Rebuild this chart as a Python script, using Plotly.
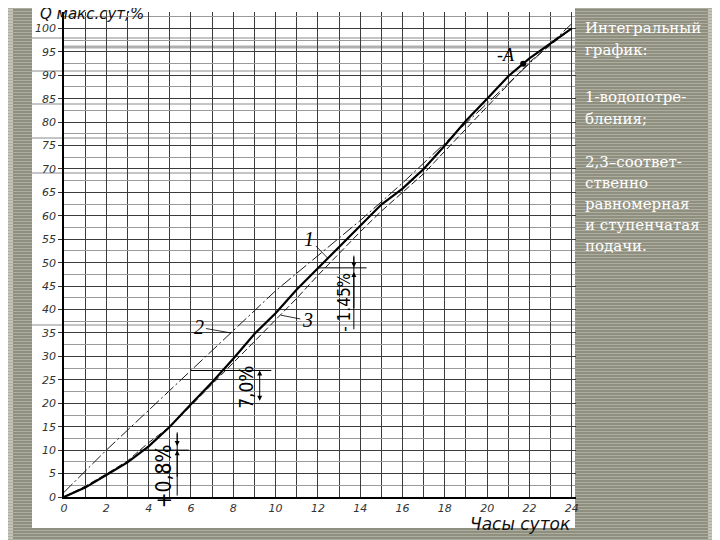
import numpy as np
import plotly.graph_objects as go

# ---------------- data ----------------
hours = list(range(25))
consumption = [0, 2.0, 4.7, 7.4, 10.8, 15.0, 19.8, 24.5, 29.5, 34.8, 39.2, 44.3, 48.8,
               53.3, 57.8, 62.4, 65.8, 70.0, 75.0, 80.3, 85.0, 89.8, 93.6, 96.8, 100.0]
uniform_hours = [0, 2, 4, 6, 8, 10, 12, 14, 16, 18, 20, 22, 24]
uniform = [1.0, 10.0, 18.5, 27.0, 35.5, 44.0, 51.5, 59.0, 67.0, 75.5, 84.0, 92.5, 101.0]
stepped = [0, 2.3, 4.9, 7.7, 11.6, 15.0, 19.5, 24.0, 28.6, 33.2, 37.8, 42.4, 47.3,
           52.0, 56.6, 61.0, 65.0, 69.0, 73.8, 78.6, 83.4, 88.2, 92.8, 96.5, 100.0]
point_a_hour = 21.7
x_ticks = list(range(0, 25, 2))
y_ticks = list(range(0, 101, 5))

panel_lines = ["Интегральный", "график:", "1-водопотре-", "бления;",
               "2,3–соответ-", "ственно", "равномерная", "и ступенчатая", "подачи."]
panel_y_px = [28, 50, 97, 119, 162, 183, 204, 225, 246]

# ---------------- geometry helpers ----------------
# The page body has an 8px margin, so the figure starts at screen (8, 8).
OFF = 8
SW, SH = 720, 540               # screen size
W, H = SW - OFF, SH - OFF       # figure size
# plot area in screen pixels
SL, SR, ST, SB = 64, 576, 12, 497
L, R, T, B = SL - OFF, SR - OFF, ST - OFF, SB - OFF


def px(xs):  # screen x -> paper x
    return (xs - OFF - L) / (R - L)


def py(ys):  # screen y -> paper y
    return (B - (ys - OFF)) / (B - T)


fig = go.Figure()

# curves
fig.add_trace(go.Scatter(x=uniform_hours, y=uniform, mode="lines",
                         line=dict(color="#1a1a1a", width=1, dash="12px,3px,2px,3px"),
                         hoverinfo="skip", showlegend=False))
fig.add_trace(go.Scatter(x=hours, y=stepped, mode="lines",
                         line=dict(color="#1a1a1a", width=1, dash="7px,3px"),
                         hoverinfo="skip", showlegend=False))
fig.add_trace(go.Scatter(x=hours, y=consumption, mode="lines",
                         line=dict(color="#000000", width=2.2),
                         hoverinfo="skip", showlegend=False))
fig.add_trace(go.Scatter(x=[point_a_hour], y=[float(np.interp(point_a_hour, hours, consumption))],
                         mode="markers", marker=dict(color="black", size=6),
                         hoverinfo="skip", showlegend=False))

shapes = []
# gray background stripes
stripe_path = []
for yy in range(OFF, SH, 3):
    stripe_path.append(f"M{px(0)},{py(yy + 0.5)} H{px(SW)}")
shapes.append(dict(type="rect", xref="paper", yref="paper", x0=px(0), x1=px(13), y0=py(SH), y1=py(0),
                   fillcolor="#c4c4b8", line=dict(width=0), layer="below"))
shapes.append(dict(type="rect", xref="paper", yref="paper", x0=px(708), x1=px(SW), y0=py(SH), y1=py(0),
                   fillcolor="#c4c4b8", line=dict(width=0), layer="below"))
shapes.append(dict(type="path", xref="paper", yref="paper", path=" ".join(stripe_path),
                   line=dict(color="#aeaea0", width=1), layer="below"))
# white sheet
shapes.append(dict(type="rect", xref="paper", yref="paper", x0=px(32), x1=px(575), y0=py(528), y1=py(0),
                   fillcolor="white", line=dict(width=0), layer="below"))
# scan artefact lines
for yy in [38, 71, 104, 138, 173, 325]:
    shapes.append(dict(type="line", xref="paper", yref="paper", x0=px(32), x1=px(575),
                       y0=py(yy), y1=py(yy), line=dict(color="#8a8a8a", width=1), layer="below"))
shapes.append(dict(type="line", xref="paper", yref="paper", x0=px(64), x1=px(575),
                   y0=py(47), y1=py(47), line=dict(color="#b0b0b0", width=3), layer="below"))

# dimension lines (data coords)
dim = dict(color="black", width=1)
shapes += [
    dict(type="line", x0=3.6, x1=5.9, y0=10.0, y1=10.0, line=dim),
    dict(type="line", x0=5.35, x1=5.35, y0=0.3, y1=13.8, line=dim),
    dict(type="line", x0=6.0, x1=9.8, y0=27.0, y1=27.0, line=dim),
    dict(type="line", x0=12.05, x1=14.3, y0=48.9, y1=48.9, line=dim),
    dict(type="line", x0=13.7, x1=13.7, y0=35.8, y1=51.5, line=dim),
]

annotations = []


def arrow(x, y, ax, ay, head=2, side="end"):
    annotations.append(dict(x=x, y=y, ax=ax, ay=ay, xref="x", yref="y", axref="x", ayref="y",
                            showarrow=True, arrowhead=head, arrowsize=1, arrowwidth=1,
                            arrowcolor="black", arrowside=side, text=""))


arrow(5.35, 10.9, 5.35, 13.8)
arrow(5.35, 10.0, 5.35, 4.0)
arrow(9.25, 27.0, 9.25, 20.2, side="end+start")
arrow(13.7, 49.0, 13.7, 51.5)
arrow(13.7, 48.0, 13.7, 40.0)

narrow = "Liberation Sans Narrow, DejaVu Sans Condensed, Liberation Sans"
for txt, x, y, s in [("+0,8%", 4.7, 4.5, 21), ("7,0%", 8.6, 23.5, 19), ("- 1.45%", 13.2, 41.5, 17)]:
    annotations.append(dict(x=x, y=y, xref="x", yref="y", text=txt, showarrow=False, textangle=-90,
                            font=dict(family=narrow, size=s, color="black")))

lab_font = dict(family="Liberation Serif", size=20, color="black", style="italic")
for txt, tx, ty, hx, hy in [("1", 11.6, 55.0, 12.5, 50.8), ("2", 6.4, 36.2, 7.9, 35.0),
                            ("3", 11.5, 37.7, 10.25, 38.8)]:
    annotations.append(dict(x=hx, y=hy, ax=tx, ay=ty, xref="x", yref="y", axref="x", ayref="y",
                            text=txt, showarrow=True, arrowhead=0, arrowwidth=0.8,
                            arrowcolor="black", font=lab_font))
annotations.append(dict(x=20.9, y=94.3, xref="x", yref="y", text="-A", showarrow=False,
                        font=dict(family="Liberation Serif", size=18, color="black", style="italic")))

# axis titles
annotations.append(dict(x=px(38), y=py(14), xref="paper", yref="paper", xanchor="left", yanchor="middle",
                        text="Q макс.сут;%", showarrow=False,
                        font=dict(family="DejaVu Sans", size=15, color="#111", style="italic")))
annotations.append(dict(x=px(573), y=py(524), xref="paper", yref="paper", xanchor="right", yanchor="middle",
                        text="Часы суток", showarrow=False,
                        font=dict(family="DejaVu Sans", size=17, color="#111", style="italic")))

# right panel text
for txt, yy in zip(panel_lines, panel_y_px):
    annotations.append(dict(x=px(583), y=py(yy), xref="paper", yref="paper", xanchor="left",
                            yanchor="middle", text=txt, showarrow=False,
                            font=dict(family="DejaVu Serif", size=15, color="white")))

tick_font = dict(family="DejaVu Sans", size=11, color="#333", style="italic")
fig.update_layout(
    width=W, height=H, autosize=False,
    margin=dict(l=L, r=W - R, t=T, b=H - B, pad=0),
    paper_bgcolor="#8f8f80", plot_bgcolor="rgba(0,0,0,0)",
    shapes=shapes, annotations=annotations, showlegend=False,
    xaxis=dict(range=[0, 24.2], tickvals=x_ticks, ticks="", showline=True, linecolor="black",
               linewidth=1.5, showgrid=True, gridcolor="#3c3c3c", gridwidth=1, zeroline=False,
               minor=dict(dtick=1, showgrid=True, gridcolor="#3c3c3c", gridwidth=1),
               tickfont=tick_font, fixedrange=True),
    yaxis=dict(range=[0, 103.5], tickvals=y_ticks, ticks="outside", ticklen=4, tickcolor="#333",
               showline=True, linecolor="black", linewidth=1.5, showgrid=True,
               gridcolor="#3c3c3c", gridwidth=1, zeroline=False,
               minor=dict(dtick=2.5, showgrid=True, gridcolor="#9a9a9a", gridwidth=1),
               tickfont=tick_font, fixedrange=True),
)

fig.write_html("out.html")
